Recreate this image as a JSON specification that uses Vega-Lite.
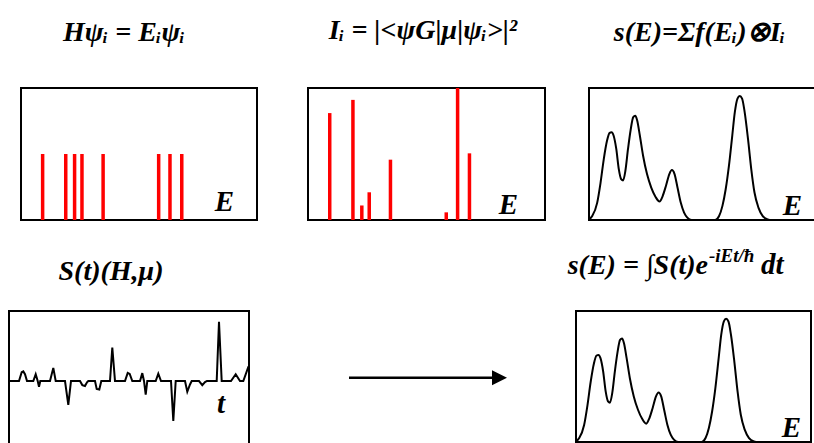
{
  "$schema": "https://vega.github.io/schema/vega-lite/v6.json",
  "background": "white",
  "padding": {"left": 8, "top": 15, "right": 0, "bottom": 0},
  "config": {
    "view": {"stroke": "black", "strokeWidth": 2},
    "title": {"font": "Liberation Serif", "fontSize": 28, "fontWeight": "bold", "fontStyle": "italic", "color": "black", "baseline": "alphabetic", "anchor": "middle"}
  },
  "datasets": {
    "levels": [
      {"E": 22, "I": 0.81},
      {"E": 45.5, "I": 0.91},
      {"E": 54.5, "I": 0.11},
      {"E": 62, "I": 0.21},
      {"E": 83.5, "I": 0.457},
      {"E": 140, "I": 0.058},
      {"E": 151.5, "I": 1.0},
      {"E": 163.5, "I": 0.505}
    ],
    "spectrum": [
      {"E": 0, "s": 0.005}, {"E": 3.3, "s": 0.03}, {"E": 8.3, "s": 0.13}, {"E": 11.7, "s": 0.28},
      {"E": 15, "s": 0.46}, {"E": 18.3, "s": 0.6}, {"E": 21, "s": 0.66}, {"E": 23, "s": 0.665},
      {"E": 25, "s": 0.64}, {"E": 27.7, "s": 0.54}, {"E": 30.3, "s": 0.386}, {"E": 32.7, "s": 0.31},
      {"E": 34.7, "s": 0.3}, {"E": 37, "s": 0.373}, {"E": 39.7, "s": 0.54}, {"E": 42.3, "s": 0.68},
      {"E": 45, "s": 0.78}, {"E": 47, "s": 0.79}, {"E": 49, "s": 0.754}, {"E": 51.7, "s": 0.64},
      {"E": 55, "s": 0.487}, {"E": 59, "s": 0.348}, {"E": 63.3, "s": 0.246}, {"E": 67.7, "s": 0.175},
      {"E": 71.7, "s": 0.14}, {"E": 75, "s": 0.183}, {"E": 78.3, "s": 0.26}, {"E": 81.7, "s": 0.348},
      {"E": 84.3, "s": 0.378}, {"E": 87, "s": 0.348}, {"E": 90, "s": 0.246}, {"E": 93.3, "s": 0.132},
      {"E": 96.7, "s": 0.056}, {"E": 100, "s": 0.018}, {"E": 104.3, "s": 0}, {"E": 128.3, "s": 0},
      {"E": 132.3, "s": 0.03}, {"E": 135.7, "s": 0.107}, {"E": 139, "s": 0.233}, {"E": 142.3, "s": 0.41},
      {"E": 145.7, "s": 0.64}, {"E": 148.3, "s": 0.817}, {"E": 151, "s": 0.92}, {"E": 153.3, "s": 0.94},
      {"E": 155.7, "s": 0.92}, {"E": 158.3, "s": 0.817}, {"E": 161.7, "s": 0.614}, {"E": 165, "s": 0.386},
      {"E": 168.3, "s": 0.208}, {"E": 172.3, "s": 0.094}, {"E": 176.7, "s": 0.03}, {"E": 181.7, "s": 0.005},
      {"E": 185.7, "s": 0}, {"E": 236, "s": 0}
    ],
    "signal": [
      {"t": 0, "S": 0}, {"t": 10, "S": 0}, {"t": 12.7, "S": 10}, {"t": 14.3, "S": 11}, {"t": 16, "S": 7.7}, {"t": 18, "S": 0},
      {"t": 24.3, "S": 0}, {"t": 26.7, "S": 7.7}, {"t": 28.7, "S": 0}, {"t": 30, "S": -6.7}, {"t": 31.3, "S": 0},
      {"t": 41, "S": 0}, {"t": 44.3, "S": 15}, {"t": 46.7, "S": 0},
      {"t": 56, "S": 0}, {"t": 59.3, "S": -27.3}, {"t": 62, "S": 0},
      {"t": 71, "S": 0}, {"t": 73.3, "S": -4.7}, {"t": 76, "S": -5.7}, {"t": 78, "S": -1.5}, {"t": 79.3, "S": 0},
      {"t": 86, "S": 0}, {"t": 87.7, "S": -9}, {"t": 90.3, "S": -9.7}, {"t": 92.3, "S": 0},
      {"t": 101, "S": 0}, {"t": 103.3, "S": 38.3}, {"t": 106, "S": 0},
      {"t": 116, "S": 0}, {"t": 118.7, "S": 9.3}, {"t": 120.7, "S": 8}, {"t": 123.3, "S": 0},
      {"t": 131, "S": 0}, {"t": 133.3, "S": 9}, {"t": 135, "S": 0}, {"t": 136.7, "S": -15.7}, {"t": 138.3, "S": 0},
      {"t": 146.7, "S": 0}, {"t": 149.3, "S": 8.3}, {"t": 152, "S": 0},
      {"t": 162, "S": 0}, {"t": 164.3, "S": -45.7}, {"t": 166.7, "S": 0},
      {"t": 176, "S": 0}, {"t": 178.3, "S": -12.3}, {"t": 181, "S": -4}, {"t": 182.7, "S": 0},
      {"t": 190, "S": 0}, {"t": 193.3, "S": -4.7}, {"t": 196, "S": -1.3}, {"t": 198, "S": 0},
      {"t": 207.7, "S": 0}, {"t": 210, "S": 67.7}, {"t": 212.7, "S": 0},
      {"t": 222, "S": 0}, {"t": 226.7, "S": 7.7}, {"t": 231, "S": 0},
      {"t": 234.3, "S": 0}, {"t": 239.3, "S": 16}, {"t": 240, "S": 17}
    ]
  },
  "spacing": 20,
  "vconcat": [
    {
      "hconcat": [
        {"width": 12, "height": 132, "view": {"stroke": null}, "data": {"values": [{}]}, "mark": {"type": "point", "opacity": 0}, "encoding": {}},
        {
          "width": 236, "height": 132,
          "title": {"text": "Hψᵢ = Eᵢψᵢ", "offset": 19.5, "dx": -15, "baseline": "alphabetic"},
          "layer": [
            {
              "data": {"name": "levels"},
              "mark": {"type": "rule", "color": "#ff0000", "strokeWidth": 3.5},
              "encoding": {
                "x": {"field": "E", "type": "quantitative", "scale": {"domain": [0, 236]}, "axis": null},
                "y": {"datum": 0, "type": "quantitative", "scale": {"domain": [0, 1]}, "axis": null},
                "y2": {"datum": 0.5}
              }
            },
            {
              "data": {"values": [{"label": "E"}]},
              "mark": {"type": "text", "font": "Liberation Serif", "fontSize": 29, "fontWeight": "bold", "fontStyle": "italic", "align": "right", "baseline": "alphabetic", "dx": -19, "dy": -9, "color": "black"},
              "encoding": {"x": {"datum": 236, "type": "quantitative"}, "y": {"datum": 0, "type": "quantitative"}, "text": {"field": "label"}}
            }
          ]
        },
        {"width": 51, "height": 132, "view": {"stroke": null}, "data": {"values": [{}]}, "mark": {"type": "point", "opacity": 0}, "encoding": {}},
        {
          "width": 237, "height": 132,
          "title": {"text": "Iᵢ = |<ψG|μ|ψᵢ>|²", "offset": 19.5, "dx": -3.5, "baseline": "alphabetic"},
          "layer": [
            {
              "data": {"name": "levels"},
              "mark": {"type": "rule", "color": "#ff0000", "strokeWidth": 3.5},
              "encoding": {
                "x": {"field": "E", "type": "quantitative", "scale": {"domain": [0, 236]}, "axis": null},
                "y": {"field": "I", "type": "quantitative", "scale": {"domain": [0, 1]}, "axis": null},
                "y2": {"datum": 0}
              }
            },
            {
              "data": {"values": [{"label": "E"}]},
              "mark": {"type": "text", "font": "Liberation Serif", "fontSize": 29, "fontWeight": "bold", "fontStyle": "italic", "align": "right", "baseline": "alphabetic", "dx": -24, "dy": -6.5, "color": "black"},
              "encoding": {"x": {"datum": 237, "type": "quantitative"}, "y": {"datum": 0, "type": "quantitative"}, "text": {"field": "label"}}
            }
          ]
        },
        {"width": 44, "height": 132, "view": {"stroke": null}, "data": {"values": [{}]}, "mark": {"type": "point", "opacity": 0}, "encoding": {}},
        {
          "width": 236, "height": 132,
          "title": {"text": "s(E)=Σf(Eᵢ)⊗Iᵢ", "offset": 19.5, "dx": -7.5, "baseline": "alphabetic"},
          "layer": [
            {
              "data": {"name": "spectrum"},
              "mark": {"type": "line", "color": "black", "strokeWidth": 2, "interpolate": "monotone"},
              "encoding": {
                "x": {"field": "E", "type": "quantitative", "scale": {"domain": [0, 236]}, "axis": null},
                "y": {"field": "s", "type": "quantitative", "scale": {"domain": [0, 1]}, "axis": null}
              }
            },
            {
              "data": {"values": [{"label": "E"}]},
              "mark": {"type": "text", "font": "Liberation Serif", "fontSize": 29, "fontWeight": "bold", "fontStyle": "italic", "align": "right", "baseline": "alphabetic", "dx": -19, "dy": -5, "color": "black"},
              "encoding": {"x": {"datum": 236, "type": "quantitative"}, "y": {"datum": 0, "type": "quantitative"}, "text": {"field": "label"}}
            }
          ]
        }
      ],
      "spacing": 0,
      "bounds": "flush"
    },
    {
      "hconcat": [
        {
          "width": 240, "height": 140,
          "title": {"text": "S(t)(H,μ)", "offset": 3, "dx": -18, "baseline": "alphabetic"},
          "layer": [
            {
              "data": {"name": "signal"},
              "mark": {"type": "line", "color": "black", "strokeWidth": 2, "clip": true},
              "encoding": {
                "x": {"field": "t", "type": "quantitative", "scale": {"domain": [0, 240]}, "axis": null},
                "y": {"field": "S", "type": "quantitative", "scale": {"domain": [-65, 75]}, "axis": null}
              }
            },
            {
              "data": {"values": [{"label": "t"}]},
              "mark": {"type": "text", "font": "Liberation Serif", "fontSize": 29, "fontWeight": "bold", "fontStyle": "italic", "align": "right", "baseline": "alphabetic", "dx": -24, "dy": 32, "color": "black"},
              "encoding": {"x": {"datum": 240, "type": "quantitative"}, "y": {"datum": 0, "type": "quantitative"}, "text": {"field": "label"}}
            }
          ]
        },
        {"width": 100, "height": 132, "view": {"stroke": null}, "data": {"values": [{}]}, "mark": {"type": "point", "opacity": 0}, "encoding": {}},
        {
          "width": 158, "height": 132,
          "view": {"stroke": null},
          "data": {"values": [{}]},
          "layer": [
            {
              "mark": {"type": "rule", "color": "black", "strokeWidth": 2.5},
              "encoding": {
                "x": {"datum": 0, "type": "quantitative", "scale": {"domain": [0, 1]}, "axis": null},
                "x2": {"datum": 0.93},
                "y": {"datum": -0.01, "type": "quantitative", "scale": {"domain": [-1, 1]}, "axis": null}
              }
            },
            {
              "mark": {"type": "point", "shape": "M-1,-1L1,0L-1,1Z", "size": 225, "filled": true, "color": "black", "opacity": 1},
              "encoding": {
                "x": {"datum": 0.9525, "type": "quantitative"},
                "y": {"datum": -0.01, "type": "quantitative"}
              }
            }
          ]
        },
        {"width": 69, "height": 132, "view": {"stroke": null}, "data": {"values": [{}]}, "mark": {"type": "point", "opacity": 0}, "encoding": {}},
        {
          "width": 235, "height": 131,
          "layer": [
            {
              "data": {"name": "spectrum"},
              "mark": {"type": "line", "color": "black", "strokeWidth": 2, "interpolate": "monotone"},
              "encoding": {
                "x": {"field": "E", "type": "quantitative", "scale": {"domain": [0, 236]}, "axis": null},
                "y": {"field": "s", "type": "quantitative", "scale": {"domain": [0, 1]}, "axis": null}
              }
            },
            {
              "data": {"values": [{"label": "E"}]},
              "mark": {"type": "text", "font": "Liberation Serif", "fontSize": 29, "fontWeight": "bold", "fontStyle": "italic", "align": "right", "baseline": "alphabetic", "dx": -6, "dy": -5, "color": "black"},
              "encoding": {"x": {"datum": 236, "type": "quantitative"}, "y": {"datum": 0, "type": "quantitative"}, "text": {"field": "label"}}
            },
            {
              "data": {"values": [{"label": "s(E) = ∫S(t)e"}]},
              "mark": {"type": "text", "font": "Liberation Serif", "fontSize": 28, "fontWeight": "bold", "fontStyle": "italic", "align": "right", "baseline": "alphabetic", "dx": 132, "dy": -37.5, "color": "black"},
              "encoding": {"x": {"datum": 0, "type": "quantitative"}, "y": {"datum": 1, "type": "quantitative"}, "text": {"field": "label"}}
            },
            {
              "data": {"values": [{"label": "-iEt/ħ"}]},
              "mark": {"type": "text", "font": "Liberation Serif", "fontSize": 19, "fontWeight": "bold", "fontStyle": "italic", "align": "left", "baseline": "alphabetic", "dx": 133, "dy": -49.5, "color": "black"},
              "encoding": {"x": {"datum": 0, "type": "quantitative"}, "y": {"datum": 1, "type": "quantitative"}, "text": {"field": "label"}}
            },
            {
              "data": {"values": [{"label": "dt"}]},
              "mark": {"type": "text", "font": "Liberation Serif", "fontSize": 29, "fontWeight": "bold", "fontStyle": "italic", "align": "left", "baseline": "alphabetic", "dx": 185, "dy": -37.5, "color": "black"},
              "encoding": {"x": {"datum": 0, "type": "quantitative"}, "y": {"datum": 1, "type": "quantitative"}, "text": {"field": "label"}}
            }
          ]
        }
      ],
      "spacing": 0,
      "bounds": "flush"
    }
  ]
}
